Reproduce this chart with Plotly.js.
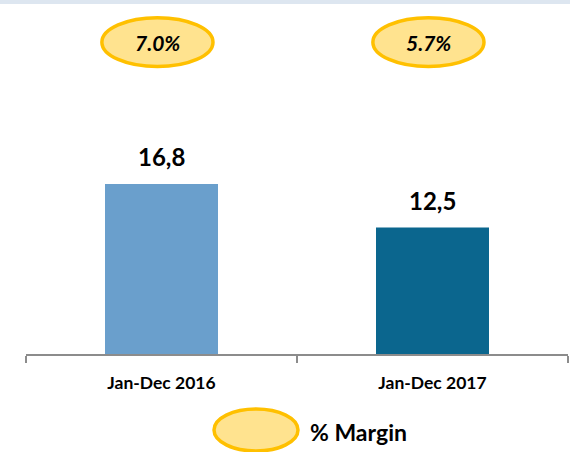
<!DOCTYPE html>
<html><head><meta charset="utf-8">
<script src="https://cdn.plot.ly/plotly-3.0.1.min.js"></script>
<style>html,body{margin:0;padding:0;background:#fff;}#chart{width:570px;height:452px;}</style>
</head><body><div id="chart"></div>
<script>
const categories = ["Jan-Dec 2016", "Jan-Dec 2017"];
const values = [16.8, 12.5];
const margins = ["7.0%", "5.7%"];
const barColors = ["#6A9FCC", "#0B668E"];
const legendLabel = "% Margin";

const FONT = "Lato, 'Open Sans', sans-serif";
const idx = categories.map((c, i) => i);

const shapes = [
  {type:"rect", xref:"paper", yref:"paper", x0:-26/542, x1:1+2/542, y0:1-4/354, y1:1.01,
   fillcolor:"#DDE6F0", line:{width:0}, layer:"below"}
];
const annotations = [];
idx.forEach(i => {
  shapes.push({type:"circle", xref:"x", yref:"paper", x0:i-0.015-0.205, x1:i-0.015+0.205,
    y0:0.812, y1:0.950, fillcolor:"#FFE38F", line:{color:"#FFC000", width:3.5}});
  annotations.push({x:i-0.015, xref:"x", y:0.881, yref:"paper", yanchor:"middle", xanchor:"center",
    text:"<b><i>"+margins[i]+"</i></b>",
    showarrow:false, font:{family:FONT, size:21, color:"#000"}});
  annotations.push({x:categories[i], y:values[i], xref:"x", yref:"y", yanchor:"bottom", yshift:11,
    text:"<b>"+values[i].toFixed(1).replace(".", ",")+"</b>", showarrow:false,
    font:{family:FONT, size:24, color:"#000"}});
});
shapes.push({type:"circle", xref:"paper", yref:"paper", x0:(214-26)/542, x1:(298-26)/542,
  y0:(354-451)/354, y1:(354-409)/354, fillcolor:"#FFE38F", line:{color:"#FFC000", width:3.5}});
annotations.push({xref:"paper", yref:"paper", x:(308-26)/542, y:(354-432)/354, xanchor:"left", yanchor:"middle",
  text:"<b>"+legendLabel+"</b>", showarrow:false, font:{family:FONT, size:23, color:"#000"}});

Plotly.newPlot("chart", [{
  type:"bar", x:categories, y:values, marker:{color:barColors}, width:0.417,
  hoverinfo:"skip"
}], {
  width:570, height:452,
  margin:{l:26, r:2, t:0, b:98},
  paper_bgcolor:"#fff", plot_bgcolor:"#fff",
  showlegend:false,
  xaxis:{type:"category", range:[-0.5,1.5], showline:true, linecolor:"#8C8C8C", linewidth:1.5,
    ticks:"outside", tickson:"boundaries", ticklen:7, tickcolor:"#8C8C8C", tickwidth:1.5,
    showgrid:false, zeroline:false, fixedrange:true,
    tickfont:{family:FONT, size:17.5, color:"#000", weight:"bold"}, ticklabelstandoff:12},
  yaxis:{range:[0,35], visible:false, showgrid:false, zeroline:false, fixedrange:true},
  shapes:shapes, annotations:annotations
}, {displayModeBar:false, staticPlot:true});
</script></body></html>
